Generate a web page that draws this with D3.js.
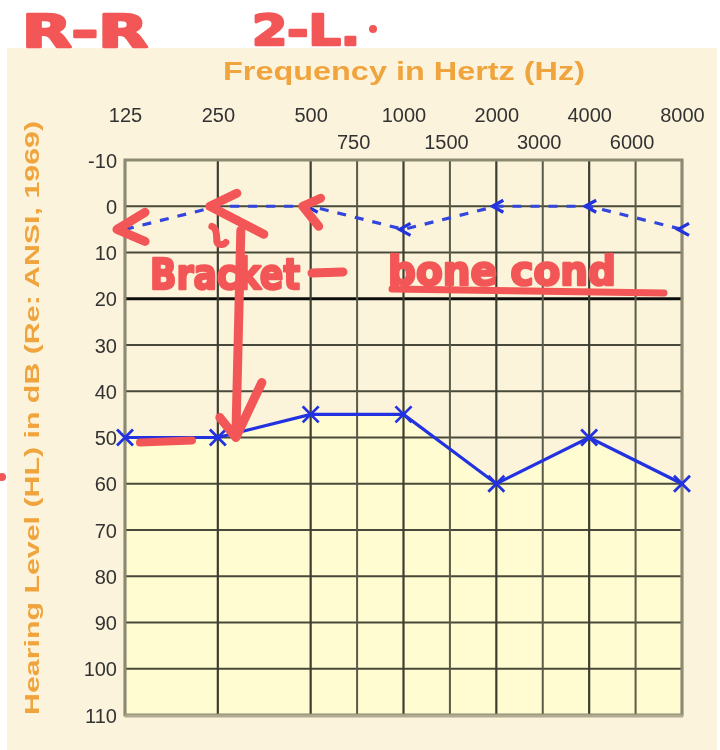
<!DOCTYPE html>
<html>
<head>
<meta charset="utf-8">
<script src="https://cdn.jsdelivr.net/npm/d3@7"></script>
<style>
  html, body { margin: 0; padding: 0; background: #ffffff; }
  svg { display: block; }
</style>
</head>
<body>
<svg id="chart" width="720" height="750"></svg>
<script>
// ---------- data ----------
const majorFreqs = [125, 250, 500, 1000, 2000, 4000, 8000];
const midFreqs = [750, 1500, 3000, 6000];
const dbTicks = [-10, 0, 10, 20, 30, 40, 50, 60, 70, 80, 90, 100, 110];
const airFreqs = [125, 250, 500, 1000, 2000, 4000, 8000];
const airDb = [50, 50, 45, 45, 60, 50, 60];
const boneFreqs = [125, 250, 500, 1000, 2000, 4000, 8000];
const boneDb = [5, 0, 0, 5, 0, 0, 5];
const xTitle = "Frequency in Hertz (Hz)";
const yTitle = "Hearing Level (HL) in dB (Re: ANSI, 1969)";
// handwritten annotations
const noteTop = ["R-R", "2-L."];
const noteMid = ["Bracket", "-", "bone cond"];
const bracketFreqs = [125, 250, 500];
const bracketDb = [5, 0, 0];
const arrowFreq = 250, arrowFromDb = 5, arrowToDb = 50;
const dashFreq = 125, dashDb = 50;

// ---------- scales ----------
function oct(f) {
  const l = Math.log2(f / 125);
  return midFreqs.includes(f) ? Math.floor(l) + 0.5 : l;
}
const x = d3.scaleLinear().domain([0, 6]).range([125, 682]);
const y = d3.scaleLinear().domain([-10, 110]).range([160, 715]);
const X = f => x(oct(f));

const svg = d3.select("#chart");
const defs = svg.append("defs");
defs.append("filter").attr("id", "soft").attr("x", "-5%").attr("y", "-5%").attr("width", "110%").attr("height", "110%")
  .append("feGaussianBlur").attr("stdDeviation", 0.75);
defs.append("filter").attr("id", "soft2").attr("x", "-5%").attr("y", "-5%").attr("width", "110%").attr("height", "110%")
  .append("feGaussianBlur").attr("stdDeviation", 0.5);

// panel
svg.append("rect").attr("x", 7).attr("y", 48).attr("width", 710).attr("height", 702).attr("fill", "#fcf3dc");

const g = svg.append("g").attr("filter", "url(#soft)");
const [x0, x1] = x.range();
const [y0, y1] = y.range();

// plot background + shaded area below air line
g.append("rect").attr("x", x0).attr("y", y0).attr("width", x1 - x0).attr("height", y1 - y0).attr("fill", "#fbf4da");
const airData = airFreqs.map((f, i) => ({ f, v: airDb[i] }));
const boneData = boneFreqs.map((f, i) => ({ f, v: boneDb[i] }));
g.append("path").datum(airData)
  .attr("d", d3.area().x(d => X(d.f)).y0(y1).y1(d => y(d.v)))
  .attr("fill", "#fefcd0");

// grid
g.selectAll("line.h").data(dbTicks).join("line")
  .attr("x1", x0).attr("x2", x1).attr("y1", d => y(d)).attr("y2", d => y(d))
  .attr("stroke", d => d === 20 ? "#111" : "#4a4a3a")
  .attr("stroke-width", d => d === 20 ? 3 : 2);
g.selectAll("line.vm").data(midFreqs).join("line")
  .attr("x1", d => X(d)).attr("x2", d => X(d)).attr("y1", y0).attr("y2", y1)
  .attr("stroke", "#5a5a48").attr("stroke-width", 2);
g.selectAll("line.vM").data(majorFreqs).join("line")
  .attr("x1", d => X(d)).attr("x2", d => X(d)).attr("y1", y0).attr("y2", y1)
  .attr("stroke", "#3e3e30").attr("stroke-width", 2.2);
// frame
g.append("rect").attr("x", x0).attr("y", y0).attr("width", x1 - x0).attr("height", y1 - y0)
  .attr("fill", "none").attr("stroke", "#8c8a72").attr("stroke-width", 3);
g.append("line").attr("x1", x0).attr("x2", x1 + 1).attr("y1", y1 + 1).attr("y2", y1 + 1)
  .attr("stroke", "#b0ab90").attr("stroke-width", 3);

// axes labels
const tickFont = "Liberation Sans, Arial, sans-serif";
const axY = d3.axisLeft(y).tickValues(dbTicks).tickFormat(d => String(d)).tickSize(0).tickPadding(8);
const gy = g.append("g").attr("transform", `translate(${x0},0)`).call(axY);
gy.select(".domain").remove();
gy.selectAll("text").attr("font-family", tickFont).attr("font-size", 20)
  .attr("fill", "#333").attr("dy", "0.36em");

const axTop = d3.axisTop(x).tickValues(majorFreqs.map(oct)).tickFormat((d, i) => majorFreqs[i]).tickSize(0).tickPadding(0);
const gt = g.append("g").attr("transform", "translate(0,122)").call(axTop);
gt.select(".domain").remove();
gt.selectAll("text").attr("font-family", tickFont).attr("font-size", 20).attr("fill", "#333").attr("dy", 0);

const axMid = d3.axisTop(x).tickValues(midFreqs.map(oct)).tickFormat((d, i) => midFreqs[i]).tickSize(0).tickPadding(0);
const gm = g.append("g").attr("transform", "translate(-4,149)").call(axMid);
gm.select(".domain").remove();
gm.selectAll("text").attr("font-family", tickFont).attr("font-size", 20).attr("fill", "#333").attr("dy", 0);

// titles
g.append("text").attr("x", 404).attr("y", 80).attr("text-anchor", "middle")
  .attr("font-family", tickFont).attr("font-weight", "bold").attr("font-size", 25)
  .attr("fill", "#f0a43c").attr("textLength", 362).attr("lengthAdjust", "spacingAndGlyphs").text(xTitle);
g.append("text").attr("transform", "translate(39,418) rotate(-90)").attr("text-anchor", "middle")
  .attr("font-family", tickFont).attr("font-weight", "bold").attr("font-size", 21)
  .attr("fill", "#f0a43c").attr("textLength", 594).attr("lengthAdjust", "spacingAndGlyphs").text(yTitle);

// bone conduction (dashed with < markers)
const lg = svg.append("g").attr("filter", "url(#soft2)");
lg.append("path").datum(boneData)
  .attr("d", d3.line().x(d => X(d.f)).y(d => y(d.v)))
  .attr("fill", "none").attr("stroke", "#3344dd").attr("stroke-width", 3.2).attr("stroke-dasharray", "9,9");
lg.selectAll("path.bm").data(boneData).join("path")
  .attr("transform", d => `translate(${X(d.f)},${y(d.v)})`)
  .attr("d", "M7,-6L-4,0L7,6")
  .attr("fill", "none").attr("stroke", "#2233dd").attr("stroke-width", 3.2);

// air conduction (solid with X markers)
lg.append("path").datum(airData)
  .attr("d", d3.line().x(d => X(d.f)).y(d => y(d.v)))
  .attr("fill", "none").attr("stroke", "#2233e0").attr("stroke-width", 3.2);
lg.selectAll("path.am").data(airData).join("path")
  .attr("transform", d => `translate(${X(d.f)},${y(d.v)})`)
  .attr("d", "M-8,-8L8,8M-8,8L8,-8")
  .attr("fill", "none").attr("stroke", "#2233e0").attr("stroke-width", 2.8);

// ---------- red handwriting ----------
const red = "#f25656";
const ann = svg.append("g").attr("fill", "none").attr("stroke", red).attr("stroke-width", 9)
  .attr("stroke-linecap", "round").attr("stroke-linejoin", "round");
const txt = svg.append("g").attr("fill", red).attr("stroke", red).attr("stroke-width", 2.5)
  .attr("stroke-linejoin", "round")
  .attr("font-family", "DejaVu Sans, sans-serif").attr("font-weight", "bold");

txt.append("text").attr("x", 22).attr("y", 47).attr("font-size", 44)
  .attr("textLength", 126).attr("lengthAdjust", "spacingAndGlyphs").text(noteTop[0]);
txt.append("text").attr("x", 252).attr("y", 45).attr("font-size", 42)
  .attr("textLength", 108).attr("lengthAdjust", "spacingAndGlyphs").text(noteTop[1]);
svg.append("circle").attr("cx", 373).attr("cy", 29).attr("r", 4).attr("fill", red);

txt.append("text").attr("x", 150).attr("y", 289).attr("font-size", 42)
  .attr("textLength", 150).attr("lengthAdjust", "spacingAndGlyphs").text(noteMid[0]);
ann.append("line").attr("x1", 312).attr("x2", 343).attr("y1", 273).attr("y2", 272);
txt.append("text").attr("x", 388).attr("y", 285).attr("font-size", 40)
  .attr("textLength", 228).attr("lengthAdjust", "spacingAndGlyphs").text(noteMid[2]);
ann.append("line").attr("x1", 392).attr("x2", 664).attr("y1", 289).attr("y2", 293).attr("stroke-width", 7);

// brackets at bone points
const bShapes = [
  "M28,-17L0,0L28,12",
  "M27,-13L0,0L54,28",
  "M18,-8L0,0L16,20"
];
bracketFreqs.forEach((f, i) => {
  ann.append("path")
    .attr("transform", `translate(${X(f) - 8},${y(bracketDb[i])})`)
    .attr("d", bShapes[i]);
});
// squiggle under 250 bracket
ann.append("path").attr("transform", `translate(${X(arrowFreq)},${y(arrowFromDb)})`)
  .attr("d", "M-6,-3C-2,-2 -1,4 -1,12C0,16 6,16 8,13").attr("stroke-width", 7);
// arrow down from bone to air
ann.append("path").attr("transform", `translate(${X(arrowFreq)},0)`)
  .attr("d", `M23,${y(arrowFromDb) + 1}L18,${y(arrowToDb)}M2,${y(arrowToDb) - 20}L18,${y(arrowToDb)}L44,${y(arrowToDb) - 55}`);
// dash near air 125
ann.append("line").attr("x1", X(dashFreq) + 15).attr("x2", X(dashFreq) + 67)
  .attr("y1", y(dashDb) + 5).attr("y2", y(dashDb) + 3).attr("stroke-width", 8);
// stray dot at left edge
svg.append("circle").attr("cx", 2).attr("cy", 477).attr("r", 4).attr("fill", red);
</script>
</body>
</html>
